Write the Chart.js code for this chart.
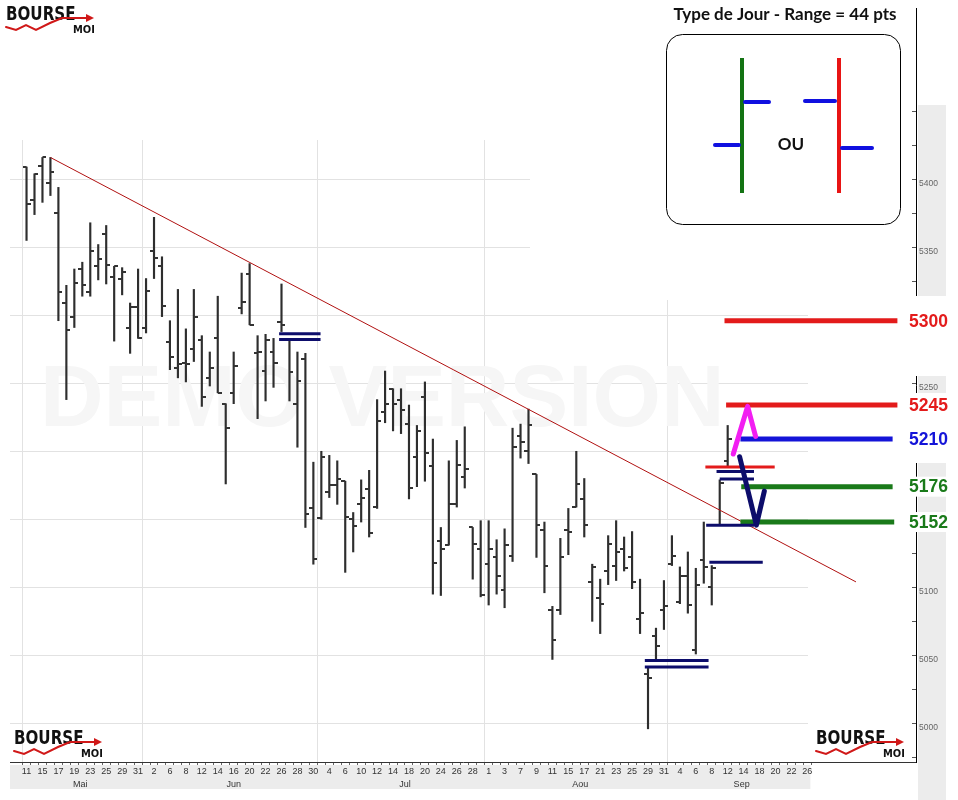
<!DOCTYPE html>
<html>
<head>
<meta charset="utf-8">
<script src="https://cdn.jsdelivr.net/npm/chart.js@4.4.0/dist/chart.umd.min.js"></script>
<style>
  html, body { margin: 0; padding: 0; background: #fff; }
  #wrap { width: 958px; height: 800px; position: relative; }
</style>
</head>
<body>
<div id="wrap"><canvas id="chart"></canvas></div>
<script>
// seances du 11 mai au 26 sept (jour du mois)
const days = [11,12,15,16,17,18,19,22,23,24,25,26,29,30,31,
  1,2,5,6,7,8,9,12,13,14,15,16,19,20,21,22,23,26,27,28,29,30,
  3,4,5,6,7,10,11,12,13,14,17,18,19,20,21,24,25,26,27,28,31,
  1,2,3,4,7,8,9,10,11,14,15,16,17,18,21,22,23,24,25,28,29,30,31,
  1,4,5,6,7,8,11,12,13,14,15,18,19,20,21,22,25,26];
const months = ["Mai", "Jun", "Jul", "Aou", "Sep"];

// OHLC
const open = [5409,5385,5410,5397,5375,5309,5299,5334,5317,5336,5360,5328,5327,5291,5306,5291,5347,5336,5280,5261,5265,5275,
  5282,5254,5283,5235,5243,5305,5330,5272,5259,5273,5295,5282,5235,5268,5158,5151,5170,5175,5178,5150,5161,
  5172,5159,5229,5246,5238,5220,5196,5240,5189,5134,5131,5161,5181,5144,5128,5117,5122,5098,5123,5211,5200,5183,5142,
  5083,5083,5142,5159,5165,5104,5092,5112,5116,5128,5122,5077,5036,5064,5083,5117,5089,5108,5054,5120,5100,5146,5193];
const high = [5409,5404,5416,5416,5394,5322,5334,5339,5368,5352,5366,5336,5335,5309,5334,5327,5372,5343,5296,5319,5290,5319,
  5285,5273,5314,5235,5273,5331,5338,5285,5286,5283,5323,5282,5273,5272,5192,5200,5197,5193,5178,5155,5179,
  5186,5238,5259,5246,5246,5234,5219,5251,5209,5144,5193,5208,5218,5144,5149,5149,5135,5143,5217,5220,5231,5183,5148,
  5086,5136,5158,5200,5180,5117,5106,5138,5149,5137,5141,5106,5041,5070,5105,5138,5115,5126,5114,5148,5116,5179,5219];
const low = [5355,5374,5383,5388,5296,5238,5291,5314,5314,5326,5323,5281,5315,5272,5283,5287,5327,5299,5260,5254,5251,5266,
  5233,5248,5243,5176,5235,5301,5293,5224,5237,5247,5288,5237,5203,5144,5117,5150,5166,5161,5111,5126,5148,
  5137,5158,5221,5215,5213,5165,5174,5178,5095,5094,5131,5159,5173,5106,5093,5087,5095,5085,5119,5195,5191,5122,5096,
  5047,5080,5124,5159,5137,5075,5066,5102,5105,5112,5099,5066,4996,5046,5069,5116,5088,5081,5051,5103,5087,5146,5188];
const close = [5382,5404,5416,5405,5317,5289,5324,5322,5347,5341,5337,5336,5332,5306,5283,5318,5342,5307,5269,5264,5264,5299,
  5240,5261,5243,5217,5263,5310,5293,5273,5282,5265,5293,5258,5252,5154,5121,5196,5175,5180,5152,5145,5166,
  5140,5222,5235,5235,5230,5173,5215,5199,5118,5128,5161,5190,5187,5132,5094,5128,5108,5131,5203,5207,5219,5146,5116,
  5061,5122,5141,5176,5146,5115,5088,5132,5126,5114,5104,5081,5033,5057,5086,5123,5108,5087,5102,5115,5114,5177,5209];

const yLabels = [5000,5050,5100,5150,5200,5250,5300,5350,5400];
const yMinor = [4975,5025,5075,5125,5175,5225,5275,5325,5375,5425,5450];

// trace a la main : x en index de seance, y en points
const trendX = [3, 104.1];
const trendY = [5416, 5104];
const levelText = ["5300", "5245", "5210", "5176", "5152"];
const levelY = [5296, 5234, 5209, 5174, 5148];
const levelFrom = [87.6, 87.8, 89.6, 89.7, 89.6];
const levelTo = [109.3, 109.3, 108.7, 108.7, 108.9];
const navyY = [5286.5, 5282.2, 5046.3, 5041.5, 5118.5, 5145.7, 5185.2, 5179.6];
const navyFrom = [31.7, 31.7, 77.6, 77.6, 85.7, 85.3, 86.6, 87.0];
const navyTo = [36.9, 36.9, 85.6, 85.6, 92.4, 91.3, 91.3, 91.3];
const redMarkY = 5188.4, redMarkFrom = 85.2, redMarkTo = 93.9;
const upArrowX = [88.7, 90.5, 91.5];
const upArrowY = [5198, 5233, 5211];
const downArrowX = [89.5, 91.6, 92.6];
const downArrowY = [5196, 5145.7, 5170.7];

const levelColors = ["#e31b1b", "#e31b1b", "#1414d8", "#1a7a1a", "#1a7a1a"];
const navy = "#0d0d6b";

function tickImg(side) {
  const c = document.createElement("canvas");
  c.width = 8; c.height = 2;
  const g = c.getContext("2d");
  g.fillStyle = "#333";
  if (side == "left") g.fillRect(0, 0, 4, 2); else g.fillRect(4, 0, 4, 2);
  return c;
}

function seg(x, y, color, width, cap) {
  return {
    type: "line",
    data: x.map((v, i) => ({ x: v, y: y[i] })),
    borderColor: color, borderWidth: width, borderCapStyle: cap || "butt",
    pointRadius: 0, tension: 0, fill: false, order: 0
  };
}

let datasets = [
  { type: "bar", data: high.map((h, i) => ({ x: i, y: [low[i], h] })),
    backgroundColor: "#2e2e2e", barThickness: 1.5, grouped: false, order: 10 },
  { type: "line", data: open.map((v, i) => ({ x: i, y: v })), showLine: false,
    pointStyle: tickImg("left"), pointRadius: 4, order: 9 },
  { type: "line", data: close.map((v, i) => ({ x: i, y: v })), showLine: false,
    pointStyle: tickImg("right"), pointRadius: 4, order: 9 },
];
let trend = seg(trendX, trendY, "#b01010", 1);
trend.order = 5;
datasets.push(trend);
navyY.forEach((v, k) => datasets.push(seg([navyFrom[k], navyTo[k]], [v, v], navy, 3)));
datasets.push(seg([redMarkFrom, redMarkTo], [redMarkY, redMarkY], "#e31b1b", 3));
levelY.forEach((v, k) => datasets.push(seg([levelFrom[k], levelTo[k]], [v, v], levelColors[k], 5)));
let up = seg(upArrowX, upArrowY, "#f21ef2", 5, "round");
up.order = -1; up.borderJoinStyle = "round";
let down = seg(downArrowX, downArrowY, navy, 5, "round");
down.order = -1; down.borderJoinStyle = "round";
datasets.push(up, down);

// debut de chaque mois
const monthStarts = [];
days.forEach((d, i) => { if (i == 0 || d < days[i - 1]) monthStarts.push(i); });

function drawLogo(ctx, x, y) {
  ctx.save();
  ctx.textAlign = "left";
  ctx.textBaseline = "alphabetic";
  ctx.fillStyle = "#111";
  ctx.font = 'bold 20px "DejaVu Sans Condensed"';
  ctx.save();
  ctx.translate(x + 4, y + 17);
  ctx.scale(0.84, 1);
  ctx.fillText("BOURSE", 0, 0);
  ctx.restore();
  ctx.font = 'bold 11px "DejaVu Sans Condensed"';
  ctx.fillText("MOI", x + 71, y + 30);
  ctx.strokeStyle = "#d01818";
  ctx.lineWidth = 2;
  ctx.beginPath();
  ctx.moveTo(x + 4, y + 24); ctx.lineTo(x + 14, y + 27); ctx.lineTo(x + 24, y + 22);
  ctx.lineTo(x + 34, y + 27); ctx.lineTo(x + 48, y + 20); ctx.lineTo(x + 60, y + 15);
  ctx.lineTo(x + 86, y + 15);
  ctx.stroke();
  ctx.fillStyle = "#d01818";
  ctx.beginPath();
  ctx.moveTo(x + 92, y + 15); ctx.lineTo(x + 84, y + 11); ctx.lineTo(x + 84, y + 19);
  ctx.closePath(); ctx.fill();
  ctx.restore();
}

const decor = {
  id: "decor",
  beforeDraw(chart) {
    const { ctx } = chart;
    const xs = chart.scales.x;
    ctx.save();
    ctx.fillStyle = "#ececec";
    ctx.fillRect(10, 765, xs.getPixelForValue(days.length - 1) + 3 - 10, 24);
    ctx.fillRect(918, 105, 28, 695);
    ctx.restore();
  },
  beforeDatasetsDraw(chart) {
    const { ctx } = chart;
    ctx.save();
    ctx.fillStyle = "#fff";
    ctx.fillRect(10, 0, 905, 140);
    ctx.fillRect(808, 0, 107.5, 761);
    ctx.fillRect(530, 0, 385, 300);
    // filigrane
    ctx.fillStyle = "#f6f6f6";
    ctx.font = 'bold 88px "Liberation Sans"';
    ctx.textBaseline = "alphabetic";
    ctx.save();
    ctx.beginPath(); ctx.rect(10, 0, 798, 761); ctx.clip();
    ctx.fillText("DEMO VERSION", 40, 426);
    ctx.restore();
    ctx.restore();
  },
  afterDraw(chart) {
    const { ctx } = chart;
    const xs = chart.scales.x, ys = chart.scales.y;
    ctx.save();
    // mois
    ctx.fillStyle = "#333";
    ctx.font = '9px "Liberation Sans"';
    ctx.textAlign = "center";
    ctx.textBaseline = "middle";
    monthStarts.forEach((s, k) => {
      const a = k == 0 ? xs.min : s;
      const b = k + 1 < monthStarts.length ? monthStarts[k + 1] : days.length - 0.5;
      ctx.fillText(months[k], xs.getPixelForValue((a + b) / 2), 785);
    });
    // petites graduations de l'axe des prix
    ctx.strokeStyle = "#555";
    ctx.lineWidth = 1;
    yLabels.concat(yMinor).forEach(v => {
      const y = Math.round(ys.getPixelForValue(v)) + 0.5;
      ctx.beginPath(); ctx.moveTo(912, y); ctx.lineTo(916, y); ctx.stroke();
    });
    // niveaux
    ctx.fillStyle = "#fff";
    ctx.fillRect(905, 296, 53, 80);
    ctx.fillRect(905, 393, 53, 70);
    ctx.font = 'bold 17.5px "Liberation Sans"';
    ctx.textAlign = "left";
    levelY.forEach((v, k) => {
      const y = ys.getPixelForValue(v);
      ctx.fillStyle = "#fff";
      ctx.fillRect(906, y - 10, 48, 20);
      ctx.fillStyle = levelColors[k];
      ctx.fillText(levelText[k], 909, y + 1);
    });
    // encadre "type de jour"
    ctx.fillStyle = "#111";
    ctx.font = 'bold 17px Lato';
    ctx.textAlign = "center";
    ctx.fillText("Type de Jour - Range = 44 pts", 785, 15);
    ctx.strokeStyle = "#000";
    ctx.lineWidth = 1;
    ctx.beginPath();
    ctx.roundRect(666.5, 34.5, 234, 190, 16);
    ctx.stroke();
    ctx.lineWidth = 4;
    ctx.strokeStyle = "#137313";
    ctx.beginPath(); ctx.moveTo(742, 58); ctx.lineTo(742, 193); ctx.stroke();
    ctx.strokeStyle = "#e81414";
    ctx.beginPath(); ctx.moveTo(839, 58); ctx.lineTo(839, 193); ctx.stroke();
    ctx.strokeStyle = "#1010e0";
    ctx.lineCap = "round";
    [[715, 145, 739, 145], [745, 102, 769, 102], [805, 101, 835, 101], [842, 148, 872, 148]].forEach(s => {
      ctx.beginPath(); ctx.moveTo(s[0], s[1]); ctx.lineTo(s[2], s[3]); ctx.stroke();
    });
    ctx.fillStyle = "#111";
    ctx.fillText("OU", 791, 145);
    // logos
    drawLogo(ctx, 2, 3);
    drawLogo(ctx, 10, 727);
    drawLogo(ctx, 812, 727);
    ctx.restore();
  }
};

new Chart(document.getElementById("chart"), {
  type: "bar",
  data: { datasets: datasets },
  options: {
    responsive: true,
    maintainAspectRatio: false,
    animation: false,
    layout: { padding: { left: 10, top: 0, right: 0, bottom: 0 } },
    plugins: { legend: { display: false }, tooltip: { enabled: false } },
    scales: {
      x: {
        type: "linear", min: -1.5, max: 111.06,
        afterBuildTicks: ax => { ax.ticks = days.map((d, i) => ({ value: i })); },
        afterFit: ax => { ax.height = 38; },
        grid: {
          color: c => (c.tick && monthStarts.includes(c.tick.value)) ? "#e2e2e2" : "rgba(0,0,0,0)",
          tickColor: "#666", tickLength: 3
        },
        border: { color: "#333" },
        ticks: {
          autoSkip: false, maxRotation: 0, padding: 1,
          font: { size: 9, family: "Liberation Sans" }, color: "#333",
          callback: (v, i) => i % 2 == 0 ? String(days[i]) : ""
        }
      },
      y: {
        position: "right", min: 4971.6, max: 5525.8,
        afterBuildTicks: ax => { ax.ticks = yLabels.map(v => ({ value: v })); },
        afterFit: ax => { ax.width = 42; },
        grid: { color: "#e2e2e2", drawTicks: false },
        border: { color: "#000" },
        ticks: {
          padding: 3, labelOffset: 4,
          font: { size: 8.5, family: "Liberation Sans" }, color: "#666",
          callback: v => String(v)
        }
      }
    }
  },
  plugins: [decor]
});
</script>
</body>
</html>
